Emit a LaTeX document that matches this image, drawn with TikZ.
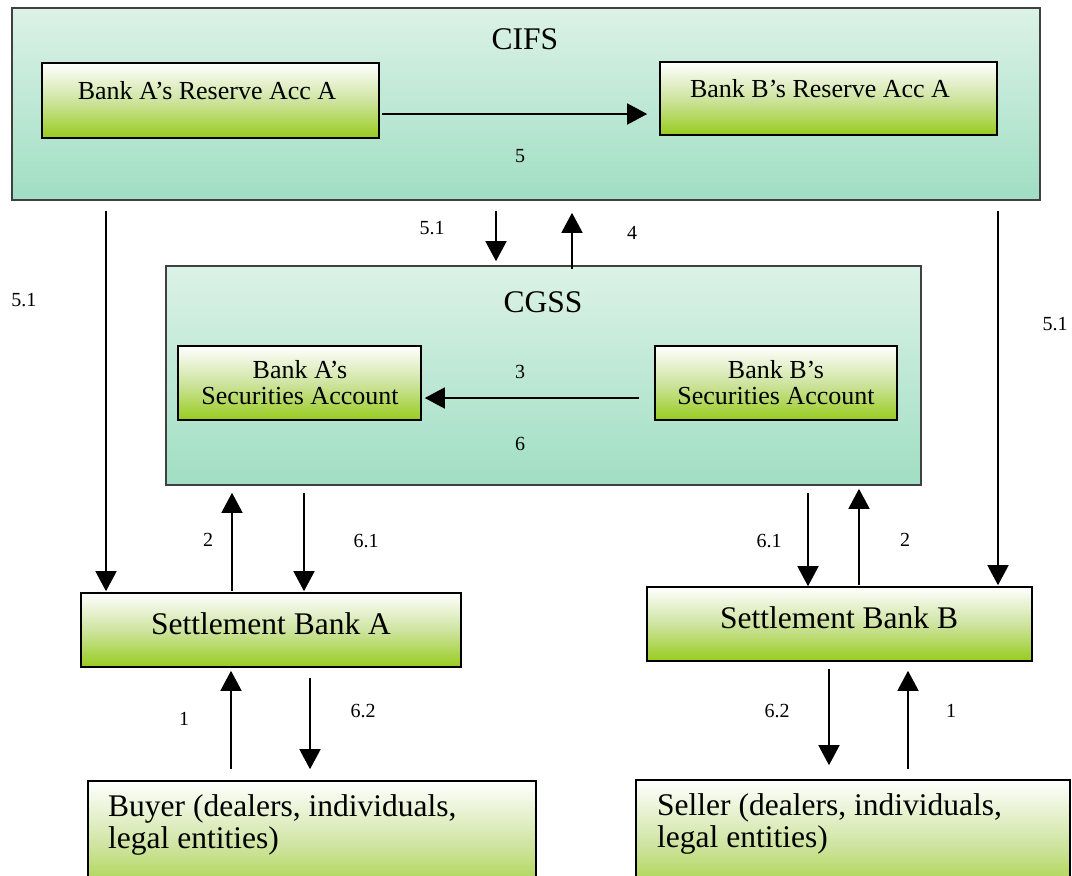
\documentclass[tikz,border=0pt]{standalone}
\usepackage{fontspec}
\setmainfont{Liberation Serif}
\usetikzlibrary{arrows.meta}
\definecolor{tealtop}{RGB}{220,242,231}
\definecolor{tealbot}{RGB}{160,222,195}
\definecolor{grnbot}{RGB}{152,204,30}
\definecolor{grnmid}{RGB}{206,228,160}
\tikzset{
  tealbox/.style={rectangle, draw=black!75, line width=1.6pt, top color=tealtop, bottom color=tealbot, inner sep=0pt},
  grnbox/.style={rectangle, draw=black, line width=1.6pt, top color=white, bottom color=grnbot, middle color=grnmid, inner sep=0pt},
  arr/.style={-{Triangle[length=20pt,width=21pt]}, line width=1.5pt},
  num/.style={font=\fontsize{20}{24}\selectfont, inner sep=0pt},
  midtxt/.style={font=\fontsize{26}{26}\selectfont, inner sep=0pt, anchor=base},
  bigtxt/.style={font=\fontsize{31.5}{32}\selectfont, inner sep=0pt, anchor=base},
}
\begin{document}
\begin{tikzpicture}[x=1pt,y=-1pt]
\useasboundingbox (0,0) rectangle (1072,876);
\clip (0,0) rectangle (1072,876);
\fill[white] (0,0) rectangle (1072,876);
% boxes
\node[tealbox, minimum width=1028pt, minimum height=192pt] (cifs) at (526,104) {};
\node[grnbox, minimum width=337pt, minimum height=75pt] (resA) at (210.5,100.5) {};
\node[grnbox, minimum width=337pt, minimum height=73pt] (resB) at (828.5,98.5) {};
\node[tealbox, minimum width=755pt, minimum height=219pt] (cgss) at (543.5,375.5) {};
\node[grnbox, minimum width=243pt, minimum height=74pt] (secA) at (299.5,383) {};
\node[grnbox, minimum width=242pt, minimum height=74pt] (secB) at (776,383) {};
\node[grnbox, minimum width=380pt, minimum height=74pt] (sbA) at (271,630) {};
\node[grnbox, minimum width=385pt, minimum height=74pt] (sbB) at (839.5,624) {};
\node[grnbox, minimum width=448pt, minimum height=130pt] (buyer) at (312,846) {};
\node[grnbox, minimum width=434pt, minimum height=130pt] (seller) at (853,845) {};
% box texts
\node[bigtxt] (tcifs) at (525,49) {CIFS};
\node[midtxt] (tresA) at (207,99) {Bank A’s Reserve Acc A};
\node[midtxt] (tresB) at (820,97) {Bank B’s Reserve Acc A};
\node[bigtxt] (tcgss) at (543,312) {CGSS};
\node[midtxt] (tsecA1) at (300,378) {Bank A’s};
\node[midtxt] (tsecA2) at (300,404) {Securities Account};
\node[midtxt] (tsecB1) at (776,378) {Bank B’s};
\node[midtxt] (tsecB2) at (776,404) {Securities Account};
\node[bigtxt] (tsbA) at (271,634) {Settlement Bank A};
\node[bigtxt] (tsbB) at (839,628) {Settlement Bank B};
\node[bigtxt, anchor=base west] (tbuy1) at (108,816) {Buyer (dealers, individuals,};
\node[bigtxt, anchor=base west] (tbuy2) at (108,848) {legal entities)};
\node[bigtxt, anchor=base west] (tsel1) at (657,815) {Seller (dealers, individuals,};
\node[bigtxt, anchor=base west] (tsel2) at (657,847) {legal entities)};
% arrows
\draw[arr, shorten <=2pt, shorten >=12pt] (resA.east |- 0,114) -- (resB.west |- 0,114);
\draw[arr, shorten <=15pt, shorten >=3pt] (secB.west |- 0,398) -- (secA.east |- 0,398);
\draw[arr, shorten <=10pt, shorten >=1pt] (cifs.south -| 106,0) -- (sbA.north -| 106,0);
\draw[arr, shorten <=10pt, shorten >=4pt] (cifs.south -| 496,0) -- (cgss.north -| 496,0);
\draw[arr, shorten <=-4pt, shorten >=12pt] (cgss.north -| 572,0) -- (cifs.south -| 572,0);
\draw[arr, shorten <=10pt, shorten >=1pt] (cifs.south -| 998,0) -- (sbB.north -| 998,0);
\draw[arr, shorten <=1pt, shorten >=7pt] (sbA.north -| 232,0) -- (cgss.south -| 232,0);
\draw[arr, shorten <=7pt, shorten >=1pt] (cgss.south -| 304,0) -- (sbA.north -| 304,0);
\draw[arr, shorten <=7pt, shorten >=0pt] (cgss.south -| 808,0) -- (sbB.north -| 808,0);
\draw[arr, shorten <=1pt, shorten >=3pt] (sbB.north -| 859,0) -- (cgss.south -| 859,0);
\draw[arr, shorten <=11pt, shorten >=3pt] (buyer.north -| 231,0) -- (sbA.south -| 231,0);
\draw[arr, shorten <=10pt, shorten >=11pt] (sbA.south -| 310,0) -- (buyer.north -| 310,0);
\draw[arr, shorten <=7pt, shorten >=14pt] (sbB.south -| 829,0) -- (seller.north -| 829,0);
\draw[arr, shorten <=10pt, shorten >=9pt] (seller.north -| 908,0) -- (sbB.south -| 908,0);
% labels
\node[num] (l5) at (520,156) {5};
\node[num] (l51m) at (432,228) {5.1};
\node[num] (l4) at (632,233) {4};
\node[num] (l51l) at (24,300) {5.1};
\node[num] (l51r) at (1055,324) {5.1};
\node[num] (l3) at (520,372) {3};
\node[num] (l6) at (520,444) {6};
\node[num] (l2a) at (208,540) {2};
\node[num] (l61a) at (366,541) {6.1};
\node[num] (l61b) at (769,541) {6.1};
\node[num] (l2b) at (905,540) {2};
\node[num] (l1a) at (184,719) {1};
\node[num] (l62a) at (363,711) {6.2};
\node[num] (l62b) at (777,711) {6.2};
\node[num] (l1b) at (951,711) {1};
\end{tikzpicture}
\end{document}
